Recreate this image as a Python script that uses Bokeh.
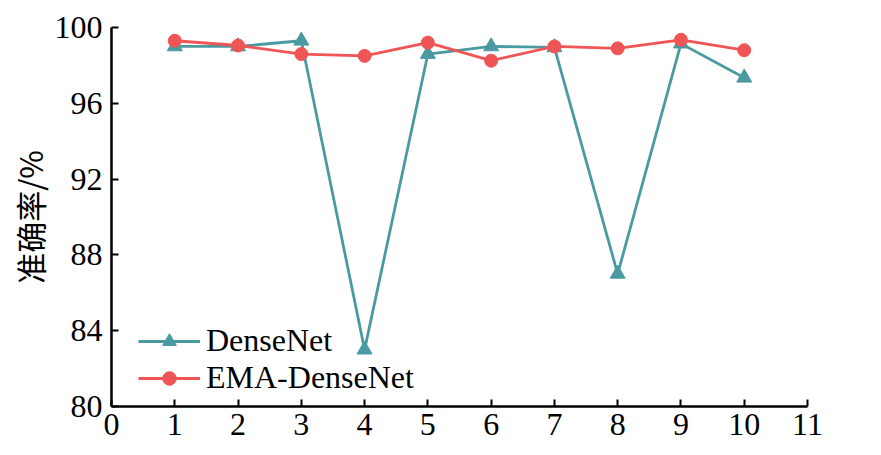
from bokeh.plotting import figure
from bokeh.models import Range1d, FixedTicker, Legend, LegendItem
from bokeh.embed import file_html
from bokeh.resources import INLINE

epochs = [1, 2, 3, 4, 5, 6, 7, 8, 9, 10]
densenet = [99.0, 99.0, 99.3, 83.0, 98.6, 99.0, 98.95, 87.0, 99.15, 97.35]
ema_densenet = [99.3, 99.05, 98.6, 98.5, 99.2, 98.25, 99.0, 98.9, 99.35, 98.8]
x_ticks = [0, 1, 2, 3, 4, 5, 6, 7, 8, 9, 10, 11]
y_ticks = [80, 84, 88, 92, 96, 100]

TEAL = "#4A9AA2"
RED = "#EF5555"
SERIF = "Liberation Serif"

W, H = 870, 447
p = figure(width=W, height=H, output_backend="svg", toolbar_location=None,
           x_range=Range1d(0, 11), y_range=Range1d(80, 100),
           min_border_left=111, min_border_right=W - 807,
           min_border_top=27, min_border_bottom=H - 406)
p.outline_line_color = None
p.grid.grid_line_color = None
p.background_fill_color = "white"

for ax in (p.xaxis[0], p.yaxis[0]):
    ax.major_tick_in = 7
    ax.major_tick_out = 0
    ax.minor_tick_in = 0
    ax.minor_tick_out = 0
    ax.axis_line_width = 2.5
    ax.major_tick_line_width = 2
    ax.axis_line_color = "black"
    ax.major_tick_line_color = "black"
    ax.major_label_text_font = SERIF
    ax.major_label_text_font_size = "32px"
    ax.major_label_text_color = "black"

p.xaxis.ticker = FixedTicker(ticks=x_ticks)
p.yaxis.ticker = FixedTicker(ticks=y_ticks)
p.xaxis.major_label_standoff = 7
p.yaxis.major_label_standoff = 9

p.yaxis.axis_label = "准确率/%"
p.yaxis.axis_label_text_font = "Noto Sans CJK SC"
p.yaxis.axis_label_text_font_style = "normal"
p.yaxis.axis_label_text_font_size = "31px"
p.yaxis.axis_label_text_color = "black"
p.yaxis.axis_label_standoff = 0

l1 = p.line(epochs, densenet, line_color=TEAL, line_width=2.8)
m1 = p.scatter(epochs, densenet, marker="triangle", size=15, fill_color=TEAL, line_color=TEAL)
l2 = p.line(epochs, ema_densenet, line_color=RED, line_width=2.8)
m2 = p.scatter(epochs, ema_densenet, marker="circle", size=13, fill_color=RED, line_color=RED)

legend = Legend(items=[LegendItem(label="DenseNet", renderers=[l1, m1]),
                       LegendItem(label="EMA-DenseNet", renderers=[l2, m2])],
                location=(27, 10))
legend.border_line_color = None
legend.background_fill_alpha = 0
legend.padding = 0
legend.spacing = 0
legend.margin = 0
legend.glyph_width = 62
legend.glyph_height = 34
legend.label_height = 34
legend.label_standoff = 6
legend.label_text_font = SERIF
legend.label_text_font_size = "32px"
legend.label_text_color = "black"
p.add_layout(legend)

open("out.html", "w").write(file_html(p, INLINE))
